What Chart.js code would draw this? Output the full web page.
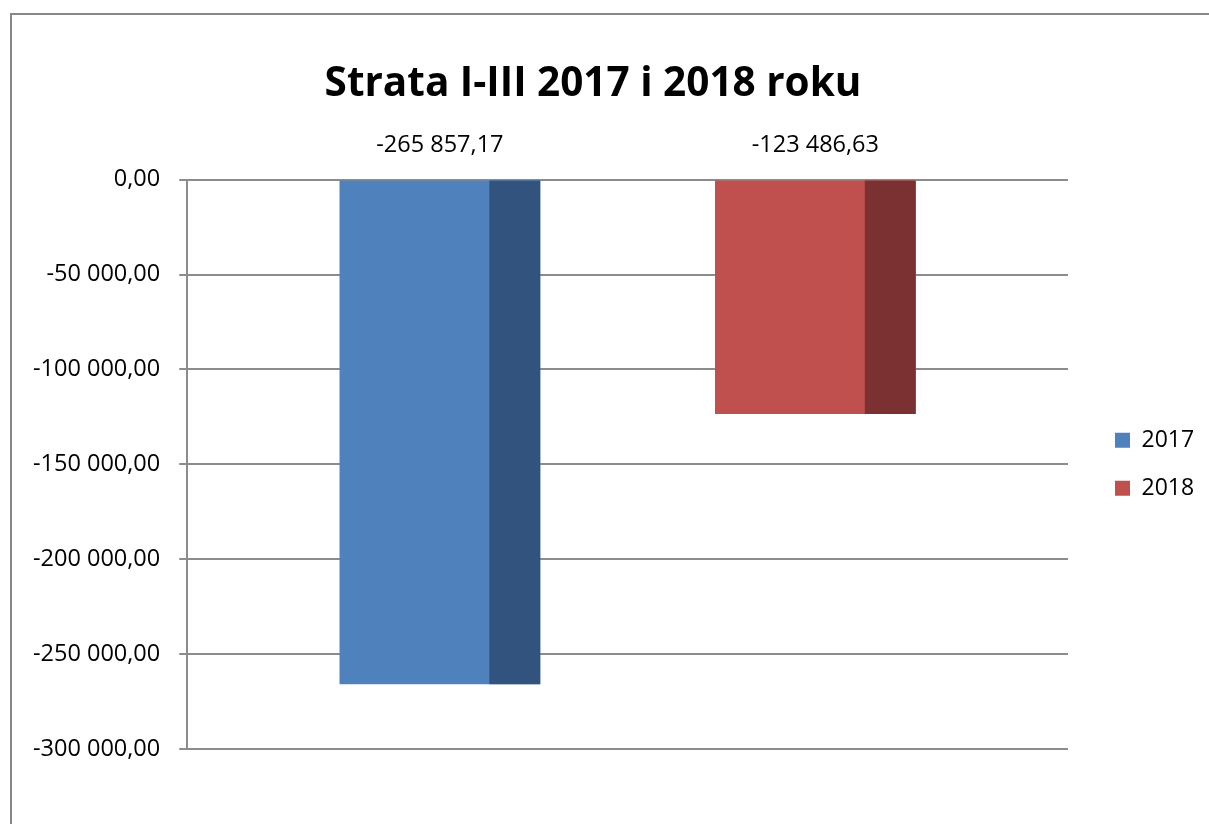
<!DOCTYPE html>
<html>
<head>
<meta charset="utf-8">
<script src="https://cdn.jsdelivr.net/npm/chart.js@4.4.1/dist/chart.umd.min.js"></script>
<style>
  html, body { margin: 0; padding: 0; background: #fff; overflow: hidden; }
  #frame { position: absolute; left: 10px; top: 13px; width: 1400px; height: 1000px; border: 2px solid #888; }
  #wrap { position: absolute; left: 0; top: 0; width: 1209px; height: 824px; }
</style>
</head>
<body>
<div id="frame"></div>
<div id="wrap"><canvas id="chart" width="1209" height="824"></canvas></div>
<script>
// ── data ──────────────────────────────────────────────────────────────────────
const categories = [''];
const seriesNames = ['2017', '2018'];
const values2017 = [-265857.17];
const values2018 = [-123486.63];
const yTicks = [0, -50000, -100000, -150000, -200000, -250000, -300000];

const FRONT = ['#4f81bd', '#c0504d'];
const SIDE  = ['#31537d', '#7b3131'];
const FONT  = 'Open Sans';

// Polish number format: "-265 857,17"
function fmtPl(v) {
  const neg = v < 0;
  const [int, dec] = Math.abs(v).toFixed(2).split('.');
  const grouped = int.replace(/\B(?=(\d{3})+(?!\d))/g, ' ');
  return (neg ? '-' : '') + grouped + ',' + dec;
}

// darker right face of each bar (Excel 3D look)
const sideFace = {
  id: 'sideFace',
  afterDatasetsDraw(chart) {
    const ctx = chart.ctx;
    chart.data.datasets.forEach((ds, i) => {
      chart.getDatasetMeta(i).data.forEach(el => {
        const { x, y, base, width } = el.getProps(['x', 'y', 'base', 'width'], true);
        const sideW = width * 0.2537;
        const right = x + width / 2;
        ctx.save();
        ctx.fillStyle = SIDE[i];
        ctx.fillRect(right - sideW, Math.min(y, base), sideW, Math.abs(base - y));
        ctx.restore();
      });
    });
  }
};

// value labels above the zero line
const valueLabels = {
  id: 'valueLabels',
  afterDatasetsDraw(chart) {
    const ctx = chart.ctx;
    const y0 = chart.scales.y.getPixelForValue(0);
    ctx.save();
    ctx.font = `23.5px "${FONT}"`;
    ctx.fillStyle = '#000';
    ctx.textAlign = 'center';
    ctx.textBaseline = 'middle';
    chart.data.datasets.forEach((ds, i) => {
      chart.getDatasetMeta(i).data.forEach((el, j) => {
        ctx.fillText(fmtPl(ds.data[j]), el.x, y0 - 34);
      });
    });
    ctx.restore();
  }
};

// legend sits a bit further from the plot than labels.padding allows
const legendGap = {
  id: 'legendGap',
  afterLayout(chart) {
    const lg = chart.legend;
    lg.left += 22;
    lg.right = chart.width;
    lg.width = lg.right - lg.left;
  }
};

new Chart(document.getElementById('chart'), {
  type: 'bar',
  data: {
    labels: categories,
    datasets: [
      { label: seriesNames[0], data: values2017, backgroundColor: FRONT[0] },
      { label: seriesNames[1], data: values2018, backgroundColor: FRONT[1] }
    ]
  },
  options: {
    responsive: false,
    animation: false,
    events: [],
    categoryPercentage: 0.8526,
    barPercentage: 0.5346,
    layout: { padding: { left: 14, right: 37, top: 0, bottom: 75 } },
    plugins: {
      title: {
        display: true,
        text: 'Strata I-III 2017 i 2018 roku',
        color: '#000',
        font: { family: FONT, size: 40.5, weight: 'bold', lineHeight: 1.2 },
        padding: { top: 60, bottom: 71 }
      },
      legend: {
        position: 'right',
        fullSize: false,
        maxWidth: 104,
        labels: {
          color: '#000',
          font: { family: FONT, size: 23 },
          boxWidth: 15, boxHeight: 15, padding: 25
        }
      },
      tooltip: { enabled: false }
    },
    scales: {
      x: { display: false },
      y: {
        min: -300000, max: 0,
        afterBuildTicks: s => { s.ticks = yTicks.map(v => ({ value: v })); },
        border: { display: true, color: '#8c8c8c', width: 2 },
        grid: { color: '#8c8c8c', lineWidth: 2, tickLength: 8, drawTicks: true },
        ticks: {
          color: '#000',
          padding: 19,
          font: { family: FONT, size: 23.5 },
          callback: v => fmtPl(v)
        }
      }
    }
  },
  plugins: [sideFace, valueLabels, legendGap]
});
</script>
</body>
</html>
